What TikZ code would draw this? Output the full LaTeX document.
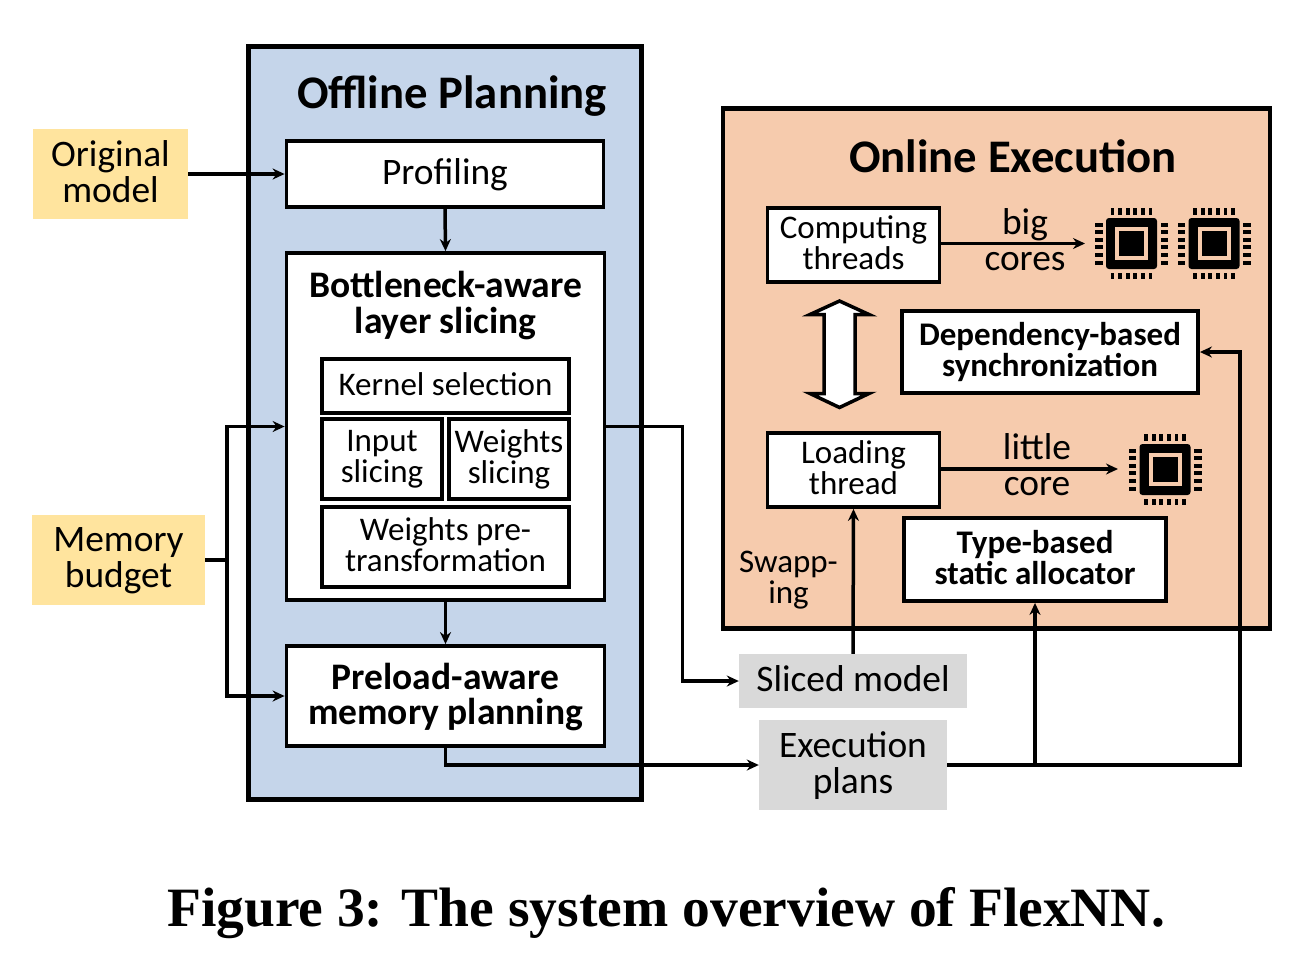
\documentclass[tikz,border=0pt]{standalone}
\usepackage{fontspec}
\setmainfont{Carlito}
\newfontfamily\capfont{Liberation Serif}
\usetikzlibrary{arrows.meta,calc}
\newcommand{\fs}[1]{\fontsize{#1}{#1}\selectfont}
\tikzset{
  x=1pt,y=-1pt,
  panel/.style={draw=black,line width=4.6pt,inner sep=0pt,outer sep=0pt},
  wbox/.style={draw=black,fill=white,line width=3.8pt,inner sep=0pt,align=center,text depth=.44em},
  note/.style={inner sep=0pt,align=center},
  yel/.style={fill=noteyellow,inner sep=0pt,align=center,font=\fs{37.4},text depth=.44em},
  gry/.style={fill=notegray,inner sep=0pt,align=center,font=\fs{37.4},text depth=.44em},
  conn/.style={line width=3.5pt,-{Stealth[length=12pt,width=11pt]}},
  plain/.style={line width=3.5pt},
  small/.style={font=\fs{33}},
  smallb/.style={font=\fs{33}\bfseries},
  large/.style={font=\fs{37.4}},
  largeb/.style={font=\fs{37.5}\bfseries},
  titlef/.style={font=\fs{46.7}\bfseries},
  chip/.pic={
    \fill[black,rounded corners=3pt] (-25.5,-25.5) rectangle (25.5,25.5);
    \fill[onfill] (-16.5,-16.5) rectangle (16.5,16.5);
    \fill[black] (-12.5,-12.5) rectangle (12.5,12.5);
    \foreach \k in {-19,-11.4,-3.8,3.8,11.4,19}{
      \fill (\k-1.9,-35.5) rectangle (\k+1.9,-29);
      \fill (\k-1.9,29) rectangle (\k+1.9,35.5);
      \fill (-36.5,\k-2) rectangle (-29,\k+2);
      \fill (29,\k-2) rectangle (36.5,\k+2);
    }
  }
}
\definecolor{offfill}{HTML}{C5D5EA}
\definecolor{onfill}{HTML}{F6CBAD}
\definecolor{noteyellow}{HTML}{FFE49E}
\definecolor{notegray}{HTML}{D9D9D9}
\begin{document}
\begin{tikzpicture}
\useasboundingbox (0,0) rectangle (1316,954);
\fill[white] (0,0) rectangle (1316,954);
% panels
\node[panel,fill=offfill,minimum width=393pt,minimum height=753pt] (off) at (445,423) {};
\node[panel,fill=onfill,minimum width=547pt,minimum height=520pt] (on) at (996.5,368.5) {};
\node[note,titlef] (offt) at (452,96.5) {Offline Planning};
\node[note,titlef] (ont) at (1013,156) {Online Execution};
% inputs
\node[yel,minimum width=155pt,minimum height=90pt] (orig) at (110.5,174) {Original\\[-1.4pt]model};
\node[yel,minimum width=173pt,minimum height=90pt] (mem) at (118.5,560) {Memory\\[-1.4pt]budget};
% offline boxes
\node[wbox,large,minimum width=317pt,minimum height=65.5pt] (prof) at (445,174) {Profiling};
\node[wbox,minimum width=318pt,minimum height=347pt] (bott) at (445.5,426.5) {};
\node[note,largeb] (bottt) at (445.5,305.5) {Bottleneck-aware\\[-1.5pt]layer slicing};
\node[wbox,small,minimum width=246.5pt,minimum height=54pt] (kern) at (445.5,386) {Kernel selection};
\node[wbox,small,minimum width=120pt,minimum height=80pt] (inp) at (382,459) {Input\\[-2pt]slicing};
\node[wbox,small,minimum width=120pt,minimum height=80pt] (wei) at (509,459) {Weights\\[-2pt]slicing};
\node[wbox,small,minimum width=246.5pt,minimum height=80pt] (pre) at (445.5,547) {Weights pre-\\[-2pt]transformation};
\node[wbox,largeb,minimum width=318pt,minimum height=100pt] (prel) at (445.5,696) {Preload-aware\\[-2.5pt]memory planning};
% outputs
\node[gry,minimum width=228pt,minimum height=54pt] (slic) at (853,681) {Sliced model};
\node[gry,minimum width=188pt,minimum height=90pt] (exec) at (853,765) {Execution\\[-1.4pt]plans};
% online boxes
\node[wbox,small,minimum width=172pt,minimum height=74pt] (comp) at (853.5,245) {Computing\\[-2pt]threads};
\node[wbox,smallb,minimum width=296pt,minimum height=82pt] (dep) at (1050,352) {Dependency-based\\[-2pt]synchronization};
\node[wbox,small,minimum width=172pt,minimum height=74pt] (load) at (853.5,470) {Loading\\[-2pt]thread};
\node[wbox,smallb,minimum width=262pt,minimum height=83pt] (type) at (1035,559.5) {Type-based\\[-2pt]static allocator};
% chips
\pic at (1131.5,243.5) {chip};
\pic at (1214,243.5) {chip};
\pic at (1165,469.5) {chip};
% free ends
\coordinate (bigend) at (1085,243.5);
\coordinate (litend) at (1118,469);
\coordinate (mj) at (227,560);
\coordinate (ej) at (1035,765);
% labels
\node[note,large] (big) at (1025,240) {big\\[-1.4pt]cores};
\node[note,large] (little) at (1037,465) {little\\[-1.4pt]core};
\node[note,small] (swap) at (788.5,580) {Swapp-\\[-2pt]ing};
% connectors
\draw[conn] (orig.east) -- (prof.west);
\draw[conn] (prof.south) -- (bott.north);
\draw[conn] (bott.south) -- (prel.north);
\draw[plain] (mem.east) -- (mj);
\draw[conn] (mj) |- (bott.west);
\draw[conn] (mj) |- (prel.west);
\draw[conn] (bott.east) -- ($(bott.east)+(76,0)$) |- (slic.west);
\draw[conn] (prel.south) |- (exec.west);
\draw[conn] (slic.north) -- (load.south);
\draw[conn] (exec.east) -| (type.south);
\draw[conn] (ej) -- (1240,765) |- (dep.east);
\draw[conn] (comp.east |- bigend) -- (bigend);
\draw[conn] (load.east |- litend) -- (litend);
% double arrow
\draw[fill=white,line width=3.5pt,miter limit=10] (839.5,301) -- (810,314.5) -- (824,314.5) -- (824,393.5) -- (810,393.5) -- (839.5,407.5) -- (869,393.5) -- (855,393.5) -- (855,314.5) -- (869,314.5) -- cycle;
% caption
\node[note,font=\capfont\fs{55.5}\bfseries] (cap) at (666,913) {Figure 3: The system overview of FlexNN.};
\end{tikzpicture}
\end{document}
